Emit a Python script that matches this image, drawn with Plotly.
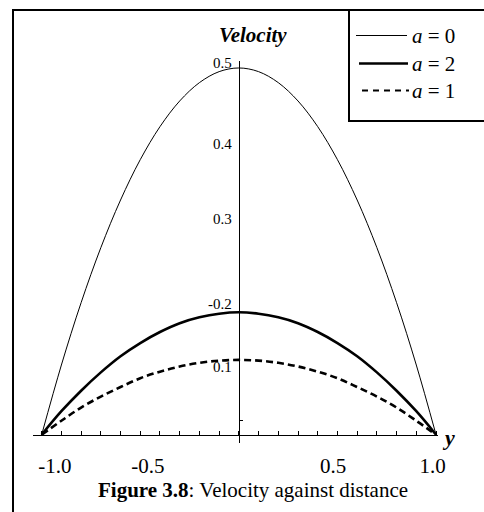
import plotly.graph_objects as go

# ---- data ----
Y_POS = [-1.0, -0.9, -0.8, -0.7, -0.6, -0.5, -0.4, -0.3, -0.2, -0.1, 0.0,
         0.1, 0.2, 0.3, 0.4, 0.5, 0.6, 0.7, 0.8, 0.9, 1.0]
U_A0 = [0.0, 0.095, 0.18, 0.255, 0.32, 0.375, 0.42, 0.455, 0.48, 0.495, 0.5,
        0.495, 0.48, 0.455, 0.42, 0.375, 0.32, 0.255, 0.18, 0.095, 0.0]
U_A2 = [0.0, 0.032, 0.060, 0.085, 0.107, 0.125, 0.140, 0.152, 0.160, 0.165, 0.167,
        0.165, 0.160, 0.152, 0.140, 0.125, 0.107, 0.085, 0.060, 0.032, 0.0]
U_A1 = [0.0, 0.019, 0.037, 0.052, 0.065, 0.077, 0.086, 0.093, 0.098, 0.101, 0.102,
        0.101, 0.098, 0.093, 0.086, 0.077, 0.065, 0.052, 0.037, 0.019, 0.0]
SERIES_NAMES = ["a = 0", "a = 2", "a = 1"]
X_TICK_TEXT = ["-1.0", "-0.5", "0.5", "1.0"]
X_TICK_POS = [-0.933, -0.461, 0.478, 0.983]
Y_TICK_TEXT = ["0.1", "-0.2", "0.3", "0.4", "0.5"]
Y_TICK_POS = [0.093, 0.179, 0.295, 0.397, 0.507]
Y_MINOR = [0.019]

# ---- layout constants ----
W, H = 484, 512
ML, MR, MT, MB = 33, 46, 61, 69
X_RANGE = [-1.044, 1.010]
Y_RANGE = [-0.0113, 0.5095]
FONT = "Liberation Serif"
PW = W - ML - MR
PH = H - MT - MB


def px(x):
    return (x - ML) / PW


def py(y):
    return (H - MB - y) / PH


styles = [
    dict(color="black", width=1),
    dict(color="black", width=2.6),
    dict(color="black", width=2.6, dash="7px,4px"),
]
series = [U_A0, U_A2, U_A1]

fig = go.Figure()
for name, vals, st in zip(SERIES_NAMES, series, styles):
    fig.add_trace(go.Scatter(x=Y_POS, y=vals, mode="lines", name=name,
                             line=dict(shape="spline", smoothing=1.0, **st),
                             showlegend=False, hoverinfo="skip"))

shapes = []
annotations = []
# outer frame (cropped at right / bottom)
shapes.append(dict(type="rect", xref="paper", yref="paper",
                   x0=px(12), x1=px(14), y0=py(9), y1=py(530),
                   fillcolor="black", line=dict(width=0)))
shapes.append(dict(type="rect", xref="paper", yref="paper",
                   x0=px(12), x1=px(500), y0=py(9), y1=py(11),
                   fillcolor="black", line=dict(width=0)))
# legend box
shapes.append(dict(type="rect", xref="paper", yref="paper",
                   x0=px(349), x1=px(500), y0=py(10), y1=py(121),
                   line=dict(color="black", width=2)))
leg_rows = [(35.5, 356, 407, 1.2, None), (63.5, 359, 408, 2.6, None),
            (90.5, 362, 409, 2.2, "6px,5px")]
for name, (yy, x0, x1, w, dash) in zip(SERIES_NAMES, leg_rows):
    ln = dict(color="black", width=w)
    if dash:
        ln["dash"] = dash
    shapes.append(dict(type="line", xref="paper", yref="paper",
                       x0=px(x0), x1=px(x1), y0=py(yy), y1=py(yy), line=ln))
    lab = "<i>a</i>" + name[1:]
    annotations.append(dict(text=lab, xref="paper", yref="paper",
                            x=px(410), y=py(yy), xanchor="left", yanchor="middle",
                            showarrow=False, font=dict(family=FONT, size=21, color="black")))

annotations.append(dict(text="<b><i>Velocity</i></b>", xref="paper", yref="paper",
                        x=px(252.5), y=py(35), xanchor="center", yanchor="middle",
                        showarrow=False, font=dict(family=FONT, size=21, color="black")))
annotations.append(dict(text="<b><i>y</i></b>", xref="paper", yref="paper",
                        x=px(448), y=py(437), xanchor="center", yanchor="middle",
                        showarrow=False, font=dict(family=FONT, size=22, color="black")))
annotations.append(dict(text="<b>Figure 3.8</b>: Velocity against distance",
                        xref="paper", yref="paper",
                        x=px(252.5), y=py(490), xanchor="center", yanchor="middle",
                        showarrow=False, font=dict(family=FONT, size=21, color="black")))

fig.update_layout(
    width=W, height=H,
    margin=dict(l=ML, r=MR, t=MT, b=MB, pad=0),
    paper_bgcolor="white", plot_bgcolor="white",
    showlegend=False,
    shapes=shapes, annotations=annotations,
    xaxis=dict(range=X_RANGE, anchor="free",
               position=(0 - Y_RANGE[0]) / (Y_RANGE[1] - Y_RANGE[0]),
               showline=True, linecolor="black", linewidth=1,
               showgrid=False, zeroline=False,
               tickmode="array", tickvals=X_TICK_POS, ticktext=X_TICK_TEXT,
               ticks="", ticklabelstandoff=12,
               tickfont=dict(family=FONT, size=21, color="black"),
               minor=dict(tickmode="linear", tick0=0, dtick=0.1, ticks="inside",
                          ticklen=4, tickwidth=1, tickcolor="black", showgrid=False)),
    yaxis=dict(range=Y_RANGE, anchor="free",
               position=(0 - X_RANGE[0]) / (X_RANGE[1] - X_RANGE[0]),
               showline=True, linecolor="black", linewidth=1,
               showgrid=False, zeroline=False,
               tickmode="array", tickvals=Y_TICK_POS, ticktext=Y_TICK_TEXT,
               ticks="", ticklabelstandoff=4,
               tickfont=dict(family=FONT, size=15, color="black"),
               minor=dict(tickmode="array", tickvals=Y_MINOR, ticks="inside",
                          ticklen=3, tickwidth=1, tickcolor="black", showgrid=False)),
)

fig.write_html("out.html", config={"displayModeBar": False, "staticPlot": True},
               post_script="document.body.style.margin='0';document.body.style.overflow='hidden';")
